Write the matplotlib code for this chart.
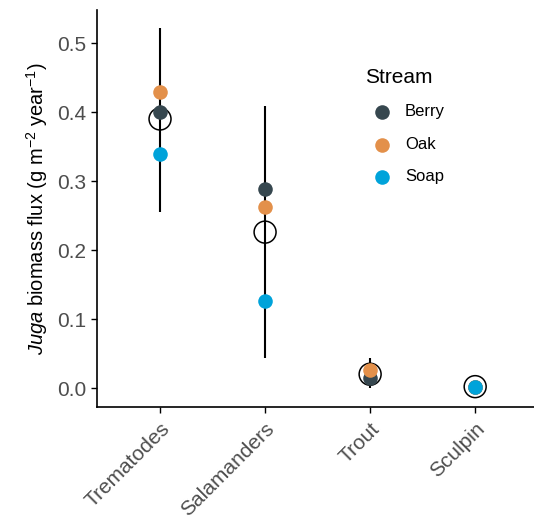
import numpy as np
import matplotlib.pyplot as plt

plt.rcParams['font.family'] = ['Liberation Sans', 'DejaVu Sans']
plt.rcParams['mathtext.fontset'] = 'custom'
plt.rcParams['mathtext.rm'] = 'Liberation Sans'
plt.rcParams['mathtext.it'] = 'Liberation Sans:italic'

# data
predators = ["Trematodes", "Salamanders", "Trout", "Sculpin"]
berry = [0.400, 0.288, 0.014, 0.002]
oak = [0.429, 0.262, 0.026, 0.002]
soap = [0.339, 0.126, np.nan, 0.002]
mean_flux = [0.390, 0.226, 0.020, 0.002]
lower = [0.255, 0.043, 0.000, 0.000]
upper = [0.522, 0.409, 0.043, 0.004]

streams = {"Berry": (berry, "#36474F"),
           "Oak": (oak, "#E3904A"),
           "Soap": (soap, "#00A3DA")}

fig = plt.figure(figsize=(5.34, 5.21), dpi=100)
ax = fig.add_axes([97 / 534, (521 - 407) / 521, 1 - 97 / 534, (407 - 10) / 521])

x = np.arange(1, len(predators) + 1)

# error bars
ax.vlines(x, lower, upper, color="black", lw=1.5, zorder=1)
# mean (open circles)
ax.scatter(x, mean_flux, s=250, facecolors="none", edgecolors="black",
           linewidths=1.1, zorder=2)
# stream points
for name, (vals, col) in streams.items():
    ax.scatter(x, vals, s=110, color=col, label=name, zorder=3, linewidths=0)

ax.set_xlim(0.4, 4.56)
ax.set_ylim(-0.0275, 0.548)
ax.set_xticks(x)
ax.set_xticklabels(predators, rotation=45, ha="right", rotation_mode="anchor",
                   fontsize=15, color="#4D4D4D")
ax.set_yticks([0.0, 0.1, 0.2, 0.3, 0.4, 0.5])
ax.set_yticklabels(["0.0", "0.1", "0.2", "0.3", "0.4", "0.5"], fontsize=15,
                   color="#4D4D4D")
ax.tick_params(axis="both", length=4, width=1, color="black")
ax.tick_params(axis="x", pad=5)

for s in ["top", "right"]:
    ax.spines[s].set_visible(False)
for s in ["left", "bottom"]:
    ax.spines[s].set_linewidth(1.2)

ax.set_ylabel(r"$\it{Juga}$ biomass flux (g m$^{-2}$ year$^{-1}$)", fontsize=14.5,
              labelpad=5)

leg = ax.legend(title="Stream", loc="upper left", bbox_to_anchor=(350 / 534, 1 - 53 / 521),
                bbox_transform=fig.transFigure, frameon=False, fontsize=12,
                title_fontsize=15, handletextpad=0.4, labelspacing=1.05,
                markerscale=1.0)
leg._legend_box.align = "left"

fig.savefig("out.png", dpi=100)
